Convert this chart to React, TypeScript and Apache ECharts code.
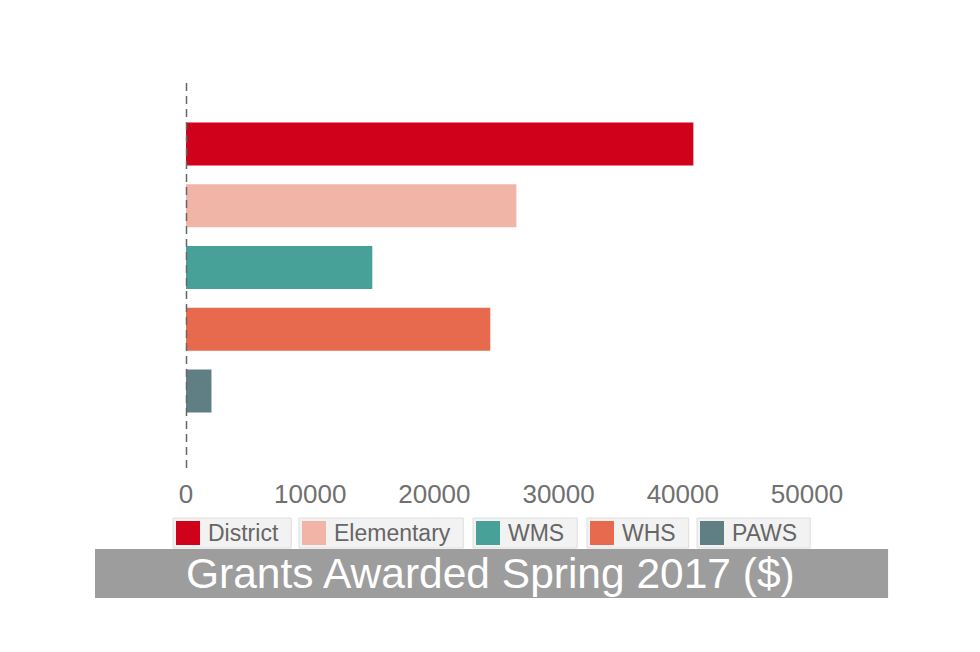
import React, { useEffect, useRef } from "react";
import * as echarts from "echarts";

const categories = ["District", "Elementary", "WMS", "WHS", "PAWS"];
const grantValues = [40850, 26600, 15000, 24500, 2050];
const barColors = ["#d0021b", "#f0b5a7", "#48a199", "#e76a4e", "#5f7f84"];
const xTicks = [0, 10000, 20000, 30000, 40000, 50000];
const legendLefts = [173, 299, 473, 587, 697];
const titleText = "Grants Awarded Spring 2017 ($)";

export default function App() {
  const ref = useRef<HTMLDivElement>(null);
  useEffect(() => {
    document.body.style.margin = "0";
    const chart = echarts.init(ref.current!, null, { renderer: "svg" });
    const series = categories.map((name, i) => ({
      name,
      type: "bar",
      stack: "all",
      barWidth: 43,
      itemStyle: { color: barColors[i] },
      data: categories.map((_, j) => (j === i ? grantValues[i] : "-")),
    }));
    const legends = categories.map((name, i) => ({
      data: [name],
      left: legendLefts[i],
      top: 518,
      orient: "horizontal",
      icon: "rect",
      itemWidth: 24,
      itemHeight: 24,
      padding: [3, 13, 3, 3],
      backgroundColor: "#f2f2f2",
      borderColor: "#dedede",
      borderWidth: 1,
      selectedMode: false,
      textStyle: { fontSize: 23, color: "#666666", padding: [0, 0, 0, 3] },
    }));
    chart.setOption({
      animation: false,
      textStyle: { fontFamily: "Liberation Sans, Arial, sans-serif" },
      title: {
        text: titleText,
        left: 95,
        top: 550,
        padding: [3, 91],
        backgroundColor: "#9d9d9d",
        textStyle: {
          color: "#ffffff",
          fontSize: 42.5,
          fontWeight: "normal",
          lineHeight: 41,
        },
      },
      legend: legends,
      grid: { left: 186, right: 173, top: 113, height: 309 },
      xAxis: {
        type: "value",
        min: xTicks[0],
        max: xTicks[xTicks.length - 1],
        interval: xTicks[1] - xTicks[0],
        axisLine: { show: false },
        axisTick: { show: false },
        splitLine: { show: false },
        axisLabel: {
          fontSize: 26,
          color: "#707070",
          margin: 59,
          formatter: (v: number) => String(v),
        },
      },
      yAxis: {
        type: "category",
        inverse: true,
        data: categories,
        axisLine: { show: false },
        axisTick: { show: false },
        axisLabel: { show: false },
        splitLine: { show: false },
      },
      series,
    });
    const x0 = chart.convertToPixel({ xAxisIndex: 0 }, xTicks[0]) as number;
    chart.setOption({
      graphic: [
        {
          type: "line",
          z: 10,
          shape: { x1: x0 + 0.5, y1: 83, x2: x0 + 0.5, y2: 470 },
          style: { stroke: "#666666", lineWidth: 1.5, lineDash: [8, 5] },
        },
      ],
    });
    return () => chart.dispose();
  }, []);
  return <div ref={ref} style={{ width: 980, height: 652 }} />;
}
